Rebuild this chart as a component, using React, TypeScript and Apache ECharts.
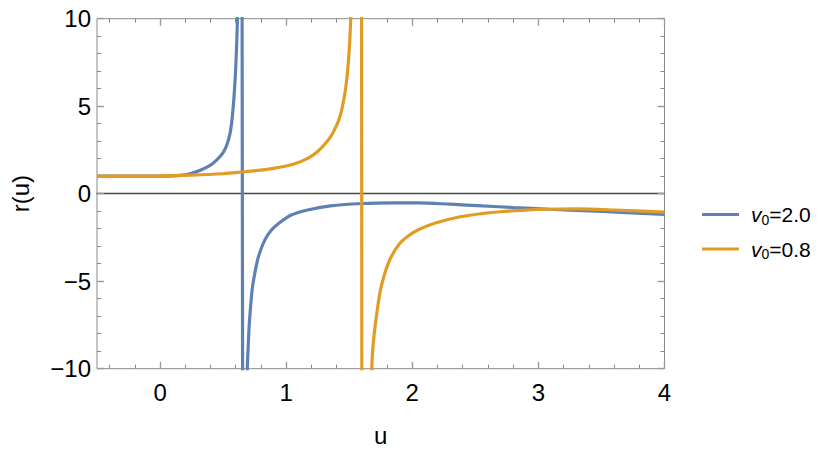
import React, { useEffect, useRef } from 'react';
import * as echarts from 'echarts';

// v0 = 2.0 (blue); null marks a break between pieces of the drawn curve
const uV20 = [-0.5, -0.25, 0, 0.1, 0.2, 0.25, 0.32, 0.4, 0.45, 0.5, 0.53, 0.555, 0.57, 0.585, 0.6, 0.613, 0.645,
  0.65, 0.645, 0.66, 0.655, 0.66, 0.692, 0.7, 0.708, 0.73, 0.75, 0.78, 0.83, 0.88, 0.94, 1.04, 1.17, 1.35, 1.6, 1.85, 2.05, 2.3, 2.56, 2.8, 3.09, 3.4, 3.62, 4.0];
const rV20 = [1.0, 1.0, 1.0, 1.02, 1.08, 1.17, 1.34, 1.63, 1.93, 2.35, 2.8, 3.45, 4.2, 5.4, 7.2, 10, 40,
  null, 40, -40, null, -40, -10, -8.6, -7.4, -5.5, -4.6, -3.6, -2.65, -2.1, -1.7, -1.22, -0.93, -0.7, -0.56, -0.52, -0.52, -0.6, -0.7, -0.79, -0.89, -0.98, -1.05, -1.19];

// v0 = 0.8 (orange)
const uV08 = [-0.5, 0, 0.25, 0.5, 0.65, 0.8, 0.9, 1.0, 1.08, 1.15, 1.216, 1.28, 1.348, 1.4, 1.43, 1.455, 1.475, 1.493, 1.503, 1.512, 1.595,
  1.6, 1.595, 1.603, 1.6, 1.603, 1.679, 1.69, 1.71, 1.745, 1.78, 1.83, 1.9, 1.97, 2.06, 2.19, 2.38, 2.55, 2.7, 2.9, 3.05, 3.3, 3.6, 4.0];
const rV08 = [1.0, 1.02, 1.06, 1.14, 1.24, 1.35, 1.45, 1.58, 1.74, 1.95, 2.22, 2.62, 3.2, 3.9, 4.5, 5.3, 6.2, 7.5, 8.6, 10, 40,
  null, 40, -40, null, -40, -10, -8.6, -7.3, -5.6, -4.6, -3.65, -2.85, -2.4, -2.02, -1.66, -1.32, -1.14, -1.03, -0.94, -0.89, -0.87, -0.93, -1.05];

const seriesNames = ['v0=2.0', 'v0=0.8'];
const seriesColors = ['#5E81B5', '#E19C24'];

const xMajorTicks = [0, 1, 2, 3, 4];
const xMinorTicks = [-0.4, -0.2, 0.2, 0.4, 0.6, 0.8, 1.2, 1.4, 1.6, 1.8, 2.2, 2.4, 2.6, 2.8, 3.2, 3.4, 3.6, 3.8];

const FONT = 'Liberation Sans, Arial, Helvetica, sans-serif';

const zip = (u: number[], r: (number | null)[]) => u.map((x, i) => (r[i] === null ? [x, '-'] : [x, r[i]]));

export default function App() {
  const ref = useRef<HTMLDivElement>(null);
  useEffect(() => {
    if (!ref.current) return;
    const chart = echarts.init(ref.current, null, { renderer: 'svg' });
    const tickColor = '#9a9a9a';
    const baseX = {
      type: 'value',
      min: -0.5,
      max: 4,
      gridIndex: 0,
      splitLine: { show: false },
      axisLine: { show: false, onZero: false },
    };
    const majorTick = { show: true, inside: true, length: 7, customValues: xMajorTicks, lineStyle: { color: tickColor, width: 1.4 } };
    const minorTickX = { show: true, inside: true, length: 4, customValues: xMinorTicks, lineStyle: { color: '#888', width: 1 } };
    const baseY = {
      type: 'value',
      min: -10,
      max: 10,
      interval: 5,
      splitLine: { show: false },
      axisLine: { show: false, onZero: false },
      axisTick: { show: true, inside: true, length: 7, lineStyle: { color: tickColor, width: 1.4 } },
      minorTick: { show: true, splitNumber: 5, length: 4, lineStyle: { color: '#888', width: 1 } },
      minorSplitLine: { show: false },
    };
    const mkSeries = (i: number, u: number[], r: (number | null)[]) => ({
      name: seriesNames[i], type: 'line', xAxisIndex: 0, yAxisIndex: 0,
      data: zip(u, r), showSymbol: false, symbol: 'none', clip: true, z: 3 + i,
      connectNulls: false, smooth: 0.3,
      lineStyle: { color: seriesColors[i], width: 3.2 }, itemStyle: { color: seriesColors[i] },
    });
    chart.setOption({
      animation: false,
      textStyle: { fontFamily: FONT },
      grid: {
        left: 97, top: 18.7, width: 567.5, height: 350,
        show: true, borderColor: '#8a8a8a', borderWidth: 1, backgroundColor: 'transparent',
        outerBoundsMode: 'none', containLabel: false,
      },
      legend: {
        orient: 'vertical',
        left: 697,
        top: 199,
        icon: 'rect',
        itemWidth: 37,
        itemHeight: 3,
        itemGap: 12,
        data: seriesNames,
        formatter: (name: string) => {
          const rest = name.slice(2);
          return '{a|v}{b|0}{c|' + rest + '}';
        },
        textStyle: {
          padding: [0, 0, 0, 7],
          rich: {
            a: { fontSize: 21, fontStyle: 'italic', fontFamily: FONT, color: '#000', lineHeight: 24, verticalAlign: 'middle' },
            b: { fontSize: 14, fontFamily: FONT, color: '#000', lineHeight: 14, verticalAlign: 'bottom' },
            c: { fontSize: 21, fontFamily: FONT, color: '#000', lineHeight: 24, verticalAlign: 'middle' },
          },
        },
      },
      xAxis: [
        {
          ...baseX,
          position: 'bottom',
          name: 'u',
          nameLocation: 'middle',
          nameGap: 55,
          nameTextStyle: { fontSize: 24, color: '#000', fontFamily: FONT },
          axisTick: majorTick,
          axisLabel: { show: true, customValues: xMajorTicks, fontSize: 24, color: '#000', margin: 12, fontFamily: FONT },
        },
        { ...baseX, position: 'bottom', axisTick: minorTickX, axisLabel: { show: false } },
        { ...baseX, position: 'top', axisTick: majorTick, axisLabel: { show: false } },
        { ...baseX, position: 'top', axisTick: minorTickX, axisLabel: { show: false } },
        {
          ...baseX,
          position: 'bottom',
          axisLine: { show: true, onZero: true, onZeroAxisIndex: 0, lineStyle: { color: '#444', width: 1.3 } },
          axisTick: { show: false },
          axisLabel: { show: false },
        },
      ],
      yAxis: [
        {
          ...baseY,
          position: 'left',
          name: 'r(u)',
          nameLocation: 'middle',
          nameRotate: 90,
          nameGap: 65,
          nameTextStyle: { fontSize: 24, color: '#000', fontFamily: FONT },
          axisLabel: {
            show: true, fontSize: 24, color: '#000', margin: 6, fontFamily: FONT,
            formatter: (v: number) => (v < 0 ? '\u2212' + Math.abs(v) : String(v)),
          },
        },
        { ...baseY, position: 'right', axisLabel: { show: false } },
      ],
      series: [mkSeries(0, uV20, rV20), mkSeries(1, uV08, rV08)],
    });
    return () => chart.dispose();
  }, []);
  return <div ref={ref} style={{ position: 'absolute', left: 0, top: 0, width: 830, height: 455 }} />;
}
